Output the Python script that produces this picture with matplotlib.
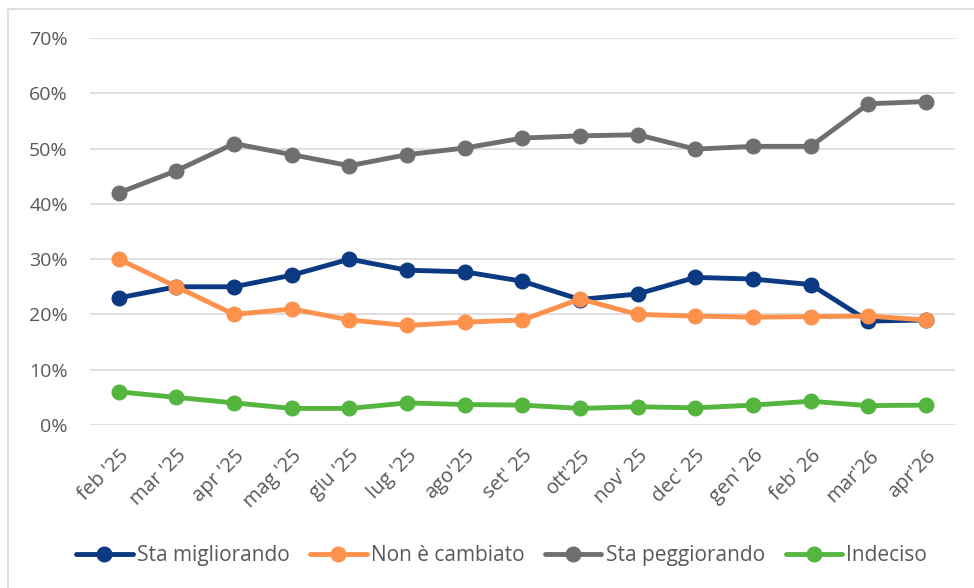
import matplotlib.pyplot as plt
from matplotlib.patches import Rectangle
from matplotlib.ticker import PercentFormatter

mesi = ["feb '25", "mar '25", "apr '25", "mag '25", "giu '25", "lug '25", "ago'25",
        "set' 25", "ott'25", "nov' 25", "dec' 25", "gen' 26", "feb' 26", "mar'26", "apr'26"]

migliorando = [23.0, 25.0, 25.0, 27.1, 30.0, 28.0, 27.7, 26.0, 22.7, 23.7, 26.7, 26.4, 25.4, 18.8, 19.0]
non_cambiato = [30.0, 25.0, 20.0, 21.0, 19.0, 18.0, 18.6, 19.0, 22.8, 20.0, 19.7, 19.5, 19.6, 19.7, 19.0]
peggiorando = [42.0, 46.0, 50.9, 48.9, 46.9, 48.9, 50.1, 51.9, 52.3, 52.5, 49.9, 50.4, 50.4, 58.1, 58.5]
indeciso = [6.0, 5.0, 4.0, 3.0, 3.0, 4.0, 3.7, 3.6, 3.0, 3.3, 3.1, 3.6, 4.3, 3.5, 3.6]

serie = [
    ("Sta migliorando", migliorando, "#0b3a82"),
    ("Non è cambiato", non_cambiato, "#fe914c"),
    ("Sta peggiorando", peggiorando, "#6f6f6f"),
    ("Indeciso", indeciso, "#54b63e"),
]

plt.rcParams['font.family'] = ['Open Sans', 'DejaVu Sans']
testo = "#595959"

fig = plt.figure(figsize=(9.74, 5.88), dpi=100)
ax = fig.add_axes([0.0924, 0.2772, 0.888, 0.6582])

x = list(range(len(mesi)))
for nome, valori, colore in serie:
    ax.plot(x, valori, color=colore, lw=3.5, marker='o', markersize=10.5,
            label=nome, solid_capstyle='round')

ax.set_xlim(-0.5, len(mesi) - 0.5)
ax.set_ylim(0, 70)
ax.set_yticks(range(0, 71, 10))
ax.yaxis.set_major_formatter(PercentFormatter(decimals=0))
ax.set_xticks(x)
ax.set_xticklabels(mesi, rotation=45, ha='right', rotation_mode='anchor')
ax.tick_params(axis='both', length=0, colors=testo)
ax.tick_params(axis='y', pad=16, labelsize=14)
ax.tick_params(axis='x', pad=15, labelsize=14.5)
ax.grid(axis='y', color='#d9d9d9', lw=1.2)
ax.set_axisbelow(True)
for s in ax.spines.values():
    s.set_visible(False)

leg = fig.legend(loc='center', bbox_to_anchor=(0.515, 0.055), ncol=4, frameon=False,
                 fontsize=15, handlelength=2.7, columnspacing=1.0, handletextpad=0.2,
                 labelcolor=testo)

# bordo del riquadro
fig.patches.append(Rectangle((8 / 974, -0.1), 1.2, 1 - 9 / 588 + 0.1,
                             transform=fig.transFigure, fill=False,
                             edgecolor='#d9d9d9', lw=1.2))

fig.savefig("out.png", dpi=100)
